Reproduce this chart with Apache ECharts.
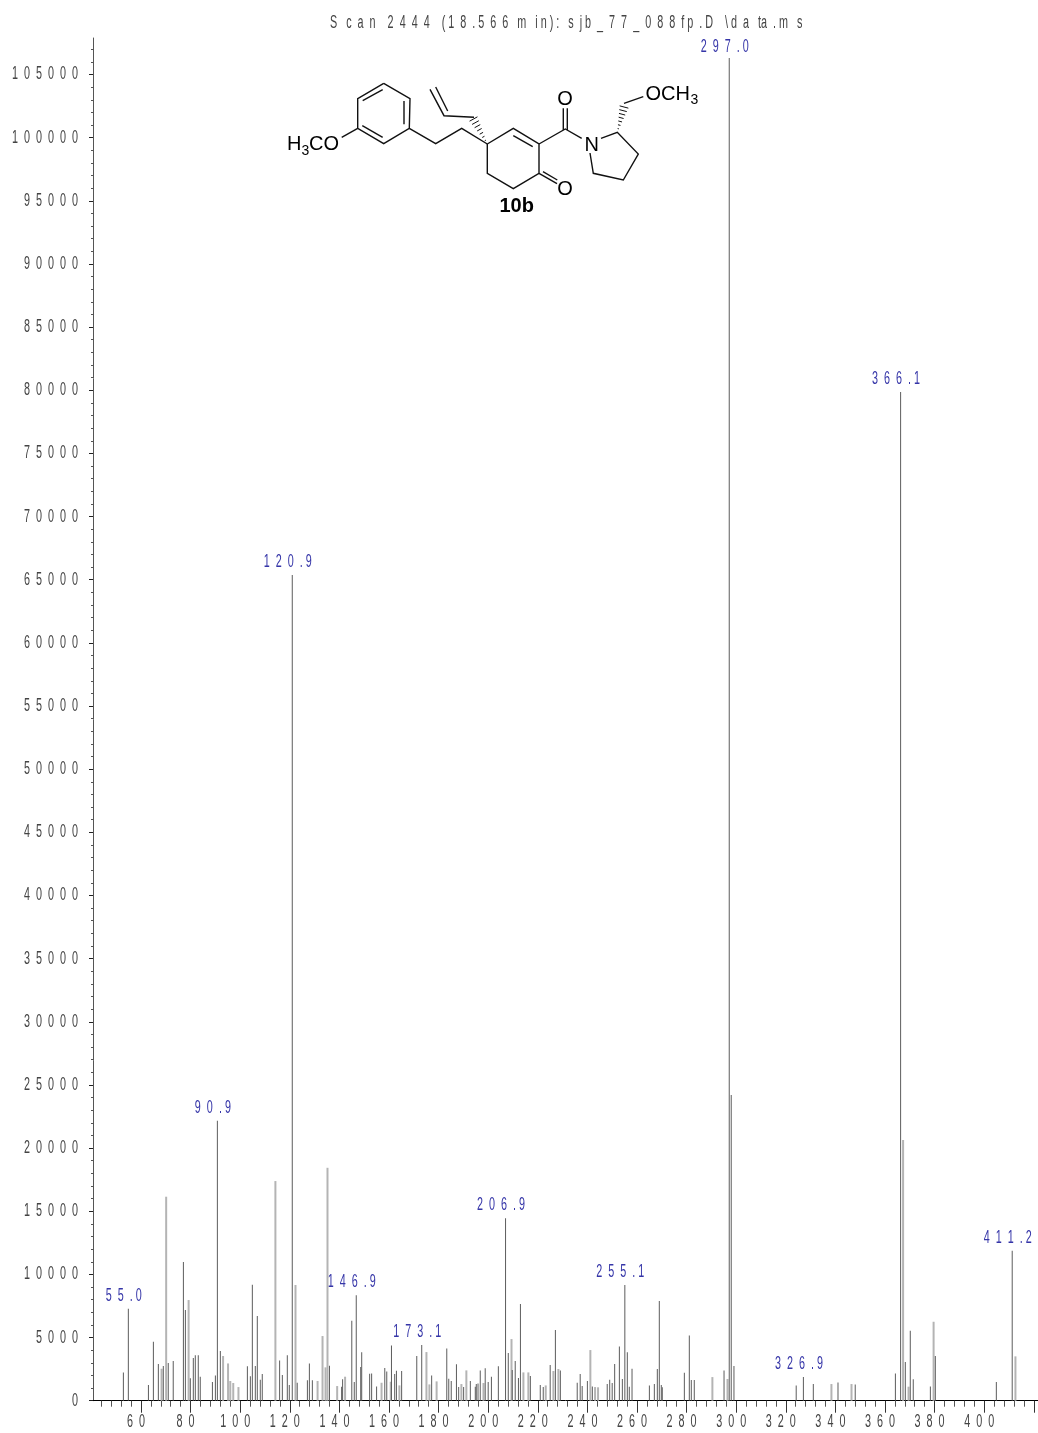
<!DOCTYPE html>
<html><head><meta charset="utf-8">
<style>html,body{margin:0;padding:0;background:#fff}#c{width:1038px;height:1433px}</style>
<script src="https://cdn.jsdelivr.net/npm/echarts@6/dist/echarts.min.js"></script>
</head><body><div id="c"></div>
<script>
const titleText = "S   c  a  n    2  4  4  4    ( 1  8  . 5  6  6   m   i n ) :   s  j b  _  7  7  _  0  8  8  f p  . D    \\ d  a   ta  . m   s";
const yMajorTicks = [0,5000,10000,15000,20000,25000,30000,35000,40000,45000,50000,55000,60000,65000,70000,75000,80000,85000,90000,95000,100000,105000];
const xLabelTicks = [60,80,100,120,140,160,180,200,220,240,260,280,300,320,340,360,380,400];
const xLongTicks = [60,80,100,120,140,160,180,200,220,240,260,280,300,320,340,360,380,400,420];
const xShortTicks = [44,48,52,56,64,68,72,76,84,88,92,96,104,108,112,116,124,128,132,136,144,148,152,156,164,168,172,176,184,188,192,196,204,208,212,216,224,228,232,236,244,248,252,256,264,268,272,276,284,288,292,296,304,308,312,316,324,328,332,336,344,348,352,356,364,368,372,376,384,388,392,396,404,408,412,416];
const yShortTicks = [1000,2000,3000,4000,6000,7000,8000,9000,11000,12000,13000,14000,16000,17000,18000,19000,21000,22000,23000,24000,26000,27000,28000,29000,31000,32000,33000,34000,36000,37000,38000,39000,41000,42000,43000,44000,46000,47000,48000,49000,51000,52000,53000,54000,56000,57000,58000,59000,61000,62000,63000,64000,66000,67000,68000,69000,71000,72000,73000,74000,76000,77000,78000,79000,81000,82000,83000,84000,86000,87000,88000,89000,91000,92000,93000,94000,96000,97000,98000,99000,101000,102000,103000,104000,106000,107000];

// sharp peaks: [m/z, abundance]
const darkPeaks = [[52.9,2240],[54.9,7280],[63,1240],[65,4670],[67,2900],[69,2740],[71,2980],[73,3140],[77.1,10980],[77.9,7180],[79.9,1770],[81.1,3380],[81.9,3590],[83.1,3590],[83.9,1900],[88.8,1480],[90,2000],[90.8,22160],[92,3930],[102.9,2720],[104.1,1930],[104.9,9180],[106.1,2740],[106.9,6700],[108.1,1660],[108.9,2110],[115.9,3190],[117,2030],[119,3590],[119.8,1240],[121,65380],[123,1420],[127.1,1610],[127.9,2950],[129.1,1610],[136,2770],[140.9,1110],[141.3,1690],[145,6330],[146,1480],[146.8,8340],[148.6,2660],[149,3830],[152.2,2140],[153,2160],[155,1130],[158.3,2590],[159.1,2320],[161,4380],[162.3,2110],[163,2370],[165.1,2350],[171.2,3540],[173.2,4410],[177.2,2000],[183.3,4140],[184.1,1740],[185.1,1560],[187.2,2880],[188.1,1080],[190.1,1080],[192.8,1560],[194.8,1110],[195.2,1320],[195.9,1370],[196.8,2400],[198.8,2560],[200,1480],[201.3,1900],[204.1,2720],[207,14440],[208.1,3770],[209.7,2430],[210.9,3140],[212.2,1790],[213,7650],[217,1950],[221,1240],[222.2,1080],[225,2820],[227.1,5600],[229.1,2400],[235.9,1420],[237.1,2110],[237.9,1160],[240,1560],[242,1130],[248,1320],[249,1660],[250,1400],[251,2900],[252.9,4300],[254.1,1720],[255.1,9160],[256.1,3830],[256.9,1110],[258,2530],[265,1210],[267,1320],[268.2,2510],[269,7890],[269.8,1240],[270.2,1060],[279.1,2220],[281.1,5170],[281.9,1640],[283.1,1640],[295.1,2400],[297.2,106300],[298,24200],[299.1,2740],[324.2,1210],[327.1,1870],[331.1,1320],[341.05,1450],[348,1290],[364.2,2160],[366.3,79860],[368.2,3060],[370.2,5540],[371.4,1690],[378.3,1130],[380.3,3540],[404.9,1480],[411.3,11870]];
// peaks that fall between pixels and read as wider, paler strokes
const palePeaks = [[68.1,2530],[69.95,16150],[79,7970],[92.9,3540],[94.9,2950],[95.8,1560],[97,1400],[99.1,1080],[114,17390],[122.1,9160],[131,1560],[133,5120],[134.2,2640],[135,18440],[138.9,1160],[142.1,1900],[156.8,1420],[160.5,1500],[164,1210],[174.9,3850],[176.1,1290],[179,1530],[189,1320],[191,2400],[197.9,1400],[209.2,4880],[214,2240],[216,2240],[223,1210],[226.1,2350],[228.1,2510],[241,4010],[242.9,1080],[244.1,1060],[290.2,1870],[296.3,1720],[338.2,1320],[346.3,1320],[367.1,20640],[369.3,1110],[379.4,6250],[412.4,3510]];
// annotated peaks: m/z, height and printed text
const peakLabelMz = [54.9,90.8,121,146.8,173.2,207,255.1,297.2,327.1,366.3,411.3];
const peakLabelY = [7280,22160,65380,8340,4410,14440,9160,106300,1870,79860,11870];
const peakLabelText = ["55.0","90.9","120.9","146.9","173.1","206.9","255.1","297.0","326.9","366.1","411.2"];

const bonds = [
 [[383.7,83.3],[410,98.7],[409.3,128.3],[383.7,143.7],[357.7,128.3],[357.7,98.7],[383.7,83.3]],
 [[362.7,100.7],[382.7,89.7]],[[404,101],[404,124.3]],[[362.3,125.7],[382.7,137.3]],
 [[409.3,128.3],[435.7,143.7],[461.7,128.3],[487.3,144]],
 [[474,117.3],[444,115.7],[430,89.3]],[[447.7,111],[435.7,87]],
 [[357.7,128.3],[341.7,137.3]],
 [[487.3,144],[513.3,128.3],[539,144],[539,173.3],[513.3,188.7],[487.3,173.3],[487.3,144]],
 [[513.3,135.7],[532.7,146.7]],
 [[539,173.3],[557,183.7]],[[543,171.7],[557.3,180]],
 [[539,144],[565.3,129],[581.7,138.3]],
 [[563.3,130],[563.3,108.3]],[[567.3,130],[567.3,108.3]],
 [[601,138.3],[617.3,132.3],[638.3,154],[623.3,180],[593.3,173.3],[590,153]],
 [[624,103.3],[643.3,96.7]]
];
const hashBonds = [[[487.3,144],[473.5,119]],[[617.3,132.3],[624,107]]];
const molTexts = [
 ["H",287,144,20,"left","normal"],["3",301.5,151,14,"left","normal"],["CO",309,144,20,"left","normal"],
 ["O",565,99.5,20,"center","normal"],["O",565,189,20,"center","normal"],["N",591.7,145,20,"center","normal"],
 ["OCH",645.5,94,20,"left","normal"],["3",690.5,100.5,14,"left","normal"],
 ["10b",516.7,206,20,"center","bold"]
];

const spaced = s => String(s).split('').join('  ').replace('.  ','. ');
const arial = '"Liberation Sans",Arial,sans-serif';
const X0 = 93, Y0 = 38, W = 945, H = 1362.7;
const XMIN = 40.65, XMAX = 421.7, YMAX = 107890;
const SQUEEZE = 0.6, LABEL_TOP_LIMIT = 47;

const gfx = [];
gfx.push({type:'text',x:330,y:23,scaleX:SQUEEZE,style:{text:titleText,font:'18px '+arial,fill:'#444',textVerticalAlign:'middle'}});
bonds.forEach(p=>gfx.push({type:'polyline',shape:{points:p},style:{stroke:'#111',lineWidth:1.4,fill:null}}));
hashBonds.forEach(([a,b])=>{
  const dx=b[0]-a[0],dy=b[1]-a[1],len=Math.hypot(dx,dy),nx=-dy/len,ny=dx/len,n=7;
  for(let i=1;i<=n;i++){const t=i/n,cx=a[0]+dx*t,cy=a[1]+dy*t,w=t*4.5;
    gfx.push({type:'line',shape:{x1:cx-nx*w,y1:cy-ny*w,x2:cx+nx*w,y2:cy+ny*w},style:{stroke:'#111',lineWidth:1}});}
});
molTexts.forEach(([t,x,y,s,al,w])=>gfx.push({type:'text',x,y,style:{text:t,font:w+' '+s+'px '+arial,fill:'#000',textAlign:al,textVerticalAlign:'middle'}}));

// squeezed text placed through the axes' own scales
const textSeries = (name,data,dx,dy,align,color) => ({
  type:'custom',name,silent:true,clip:false,coordinateSystem:'cartesian2d',
  encode:{x:0,y:1},data,
  renderItem:(p,api)=>{
    const c=api.coord([api.value(0),api.value(1)]);
    return {type:'text',x:c[0]+dx,y:Math.max(c[1]+dy,LABEL_TOP_LIMIT),scaleX:SQUEEZE,silent:true,
      style:{text:data[p.dataIndex][2],font:'18px '+arial,fill:color,textAlign:align,textVerticalAlign:'middle'}};
  }
});
const xLabelData = xLabelTicks.map(v=>[v,0,spaced(v)]);
const yLabelData = yMajorTicks.map(v=>[XMIN,v,spaced(v)]);
const peakLabelData = peakLabelMz.map((m,i)=>[m,peakLabelY[i],spaced(peakLabelText[i])]);

const chart = echarts.init(document.getElementById('c'),null,{renderer:'canvas'});
chart.setOption({
  animation:false, backgroundColor:'#fff',
  grid:{left:X0,top:Y0,width:W,height:H,containLabel:false,outerBoundsMode:'none'},
  xAxis:[
   {type:'value',min:XMIN,max:XMAX,position:'bottom',splitLine:{show:false},
    axisLine:{show:true,onZero:false,lineStyle:{color:'#000',width:1}},
    axisTick:{show:true,length:12,customValues:xLongTicks,lineStyle:{color:'#333'}},
    axisLabel:{show:false}},
   {type:'value',min:XMIN,max:XMAX,position:'bottom',splitLine:{show:false},
    axisLine:{show:false},axisTick:{show:true,length:6,customValues:xShortTicks,lineStyle:{color:'#555'}},
    axisLabel:{show:false}}
  ],
  yAxis:[
   {type:'value',min:0,max:YMAX,position:'left',splitLine:{show:false},
    axisLine:{show:true,onZero:false,lineStyle:{color:'#555',width:1}},
    axisTick:{show:true,length:4,customValues:yMajorTicks,lineStyle:{color:'#222'}},
    axisLabel:{show:false}},
   {type:'value',min:0,max:YMAX,position:'left',splitLine:{show:false},
    axisLine:{show:false},axisTick:{show:true,length:2,customValues:yShortTicks,lineStyle:{color:'#555'}},
    axisLabel:{show:false}}
  ],
  series:[
   {type:'bar',name:'pale',data:palePeaks,barWidth:2,barGap:'-100%',itemStyle:{color:'#b4b4b4'},silent:true},
   {type:'bar',name:'sharp',data:darkPeaks,barWidth:1,barGap:'-100%',itemStyle:{color:'#5c5c5c'},silent:true},
   textSeries('xLabels',xLabelData,-5,21,'center','#444'),
   textSeries('yLabels',yLabelData,-15,0,'right','#444'),
   textSeries('peakLabels',peakLabelData,-4.5,-13,'center','#3535a8')
  ],
  graphic:{elements:gfx}
});
</script></body></html>
